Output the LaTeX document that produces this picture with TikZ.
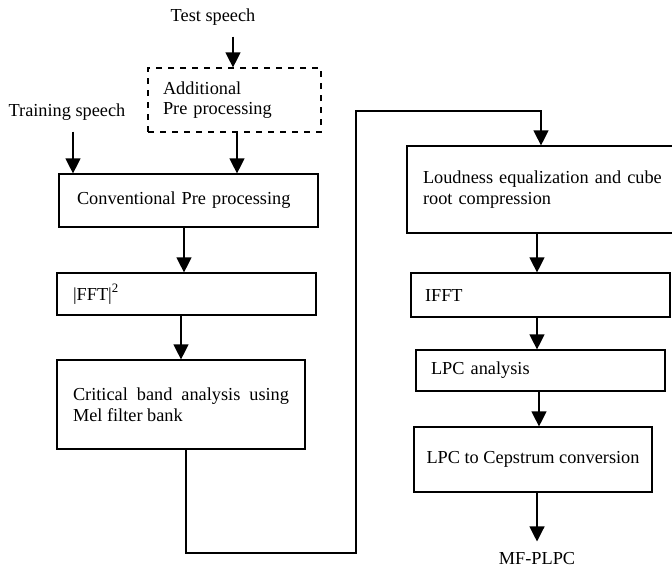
\documentclass[tikz,border=0pt]{standalone}
\usepackage{fontspec}
\setmainfont{Liberation Serif}
\usetikzlibrary{arrows.meta,positioning}

\begin{document}
\begin{tikzpicture}[
  x=0.5pt, y=-0.5pt,
  font=\fontsize{9.15}{10.25}\selectfont,
  box/.style={draw, line width=0.6pt, align=left, inner ysep=0pt},
  lbl/.style={inner sep=5.5pt},
  ar/.style={-{Triangle[length=7.5pt, width=7.5pt]}, line width=0.6pt},
]
\useasboundingbox (0,0) rectangle (672,569);

% ---------------- inputs ----------------
\node[lbl] (test) at (213,17) {Test speech};
\node[lbl] (train) at (67,112) {Training speech};

% ---------------- left column ----------------
\node[box, dashed, minimum width=86.5pt, minimum height=32pt,
      text width=71.5pt, inner xsep=7.5pt] (addl) at (234.5,100)
  {Additional\\Pre processing};

\node[box, minimum width=129.5pt, minimum height=26.5pt,
      text width=111.5pt, inner xsep=9pt] (conv) at (188.5,200.5)
  {Conventional Pre processing};

\node[box, minimum width=129.5pt, minimum height=21pt,
      text width=113.5pt, inner xsep=8pt] (fft) at (186.5,294)
  {\textbar FFT\textbar\textsuperscript{2}};

\node[box, align=justify, minimum width=124pt, minimum height=44.5pt,
      text width=108pt, inner xsep=8pt] (crit) at (181,404.5)
  {Critical band analysis using Mel filter bank};

% ---------------- right column ----------------
\node[box, minimum width=134pt, minimum height=43.5pt,
      text width=126pt, inner xsep=4pt] (loud) at (541,189.5)
  {\hspace*{4pt}Loudness equalization and cube\\\hspace*{4pt}root compression};

\node[box, minimum width=129.5pt, minimum height=22pt,
      text width=115.5pt, inner xsep=7pt] (ifft) at (540.5,295)
  {IFFT};

\node[box, minimum width=124.5pt, minimum height=20.5pt,
      text width=109.5pt, inner xsep=7.5pt] (lpca) at (540.5,370.5)
  {LPC analysis};

\node[box, align=center, minimum width=119pt, minimum height=32.5pt,
      inner xsep=6pt] (ceps) at (533,459.5)
  {LPC to Cepstrum conversion};

\node[lbl] (mf) at (537,559) {MF-PLPC};

% ---------------- arrows ----------------
\coordinate (bend) at (356,553);
\coordinate (top) at (356,111);

\draw[ar] ([xshift=-0.75pt]test.south -| addl.north) -- ([xshift=-0.75pt]addl.north);
\draw[ar] ([xshift=3pt]train.south) -- ([xshift=3pt]train.south |- conv.north);
\draw[ar] ([xshift=1.25pt]addl.south) -- ([xshift=1.25pt]addl.south |- conv.north);
\draw[ar] ([xshift=-1.25pt]fft.north |- conv.south) -- ([xshift=-1.25pt]fft.north);
\draw[ar] (crit.north |- fft.south) -- (crit.north);

% jump to the right column
\draw[ar] ([xshift=2.5pt]crit.south) |- (bend) -- (top) -| (loud.north);

\draw[ar] ([xshift=-2pt]loud.south) -- ([xshift=-2pt]loud.south |- ifft.north);
\draw[ar] ([xshift=-1.75pt]ifft.south) -- ([xshift=-1.75pt]ifft.south |- lpca.north);
\draw[ar] ([xshift=-0.75pt]lpca.south) -- ([xshift=-0.75pt]lpca.south |- ceps.north);
\draw[ar] (mf.north |- ceps.south) -- (mf.north);

\end{tikzpicture}
\end{document}
